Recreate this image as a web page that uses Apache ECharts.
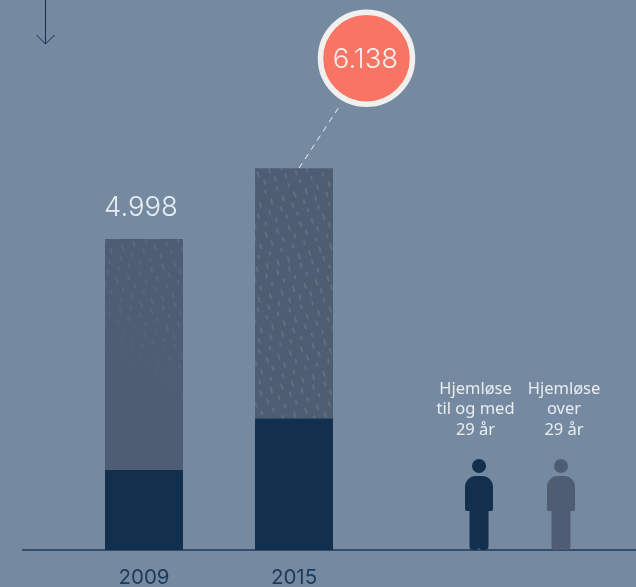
<!DOCTYPE html>
<html>
<head>
<meta charset="utf-8">
<style>
html, body { margin: 0; padding: 0; background: #758aa1; }
#chart { width: 636px; height: 587px; }
</style>
<script src="https://cdn.jsdelivr.net/npm/echarts@6/dist/echarts.min.js"></script>
</head>
<body>
<div id="chart"></div>
<script>
let years = ['2009', '2015', '', ''];
let upTo29 = [1290, 2120];
let over29 = [3708, 4018];
let totals = ['4.998', '6.138'];
let legendYoung = 'Hjemløse\ntil og med\n29 år';
let legendOld = 'Hjemløse\nover\n29 år';

let navy = '#132f4e';
let slate = '#4e5d72';
let bg = '#758aa1';
let textLight = '#e9edf0';

// streaks on the upper part of the bars
let rain = {
    symbol: 'rect',
    symbolSize: 1,
    symbolKeepAspect: false,
    color: 'rgba(255,255,255,0.10)',
    dashArrayX: [[2, 9], [0, 4, 1.5, 6], [0, 7, 2, 3], [0, 2, 1.5, 8]],
    dashArrayY: [6, 4, 5, 5, 4, 6],
    rotation: -0.3
};

let chart = echarts.init(document.getElementById('chart'));

let option = {
    backgroundColor: bg,
    animation: false,
    grid: { left: 69, top: 0, width: 600, height: 550, outerBoundsMode: 'none' },
    xAxis: {
        type: 'category',
        data: years,
        axisLine: { show: false },
        axisTick: { show: false },
        axisLabel: { color: '#1d3a5b', fontSize: 20.5, fontFamily: 'Inter', margin: 17 }
    },
    yAxis: {
        type: 'value',
        min: 0,
        max: 550 / 0.0622,
        show: false,
        splitLine: { show: false }
    },
    series: [
        {
            name: 'Hjemløse til og med 29 år',
            type: 'bar',
            stack: 'total',
            barWidth: 78,
            itemStyle: { color: navy },
            data: upTo29
        },
        {
            name: 'Hjemløse over 29 år',
            type: 'bar',
            stack: 'total',
            barWidth: 78,
            itemStyle: { color: slate, decal: rain },
            data: [
                {
                    value: over29[0],
                    label: {
                        show: true,
                        position: 'top',
                        distance: 17,
                        offset: [-3, 0],
                        formatter: totals[0],
                        color: textLight,
                        fontSize: 27.5,
                        fontFamily: 'Inter',
                        fontWeight: 300
                    }
                },
                over29[1]
            ]
        }
    ]
};
chart.setOption(option);

// callout, baseline and the fade on the 2009 bar hang off the chart's own scale
let top2009 = chart.convertToPixel({ gridIndex: 0 }, [0, upTo29[0] + over29[0]]);
let mid2009 = chart.convertToPixel({ gridIndex: 0 }, [0, upTo29[0]]);
let top2015 = chart.convertToPixel({ gridIndex: 0 }, [1, upTo29[1] + over29[1]]);
let base = chart.convertToPixel({ gridIndex: 0 }, [0, 0]);
let cx = top2015[0] + 72.500;
let cy = top2015[1] - 110;

function person(x, color) {
    return {
        type: 'group',
        x: x,
        y: 459,
        children: [
            { type: 'circle', shape: { cx: 14, cy: 7, r: 7 }, style: { fill: color } },
            { type: 'rect', shape: { x: 0, y: 17, width: 28, height: 35, r: [11, 11, 2, 2] }, style: { fill: color } },
            { type: 'rect', shape: { x: 4.500, y: 50, width: 9.800, height: 41, r: [0, 0, 4, 4] }, style: { fill: color } },
            { type: 'rect', shape: { x: 13.700, y: 50, width: 9.800, height: 41, r: [0, 0, 4, 4] }, style: { fill: color } }
        ]
    };
}

chart.setOption({
    graphic: [
        {
            type: 'rect',
            z: 10,
            shape: { x: top2009[0] - 39, y: top2009[1], width: 78, height: mid2009[1] - top2009[1] },
            style: {
                fill: new echarts.graphic.LinearGradient(0, 0.85, 1, 0.35, [
                    { offset: 0, color: 'rgba(78,93,114,1)' },
                    { offset: 0.4, color: 'rgba(78,93,114,1)' },
                    { offset: 1, color: 'rgba(78,93,114,0.4)' }
                ])
            }
        },
        { type: 'line', shape: { x1: 22, y1: base[1], x2: 636, y2: base[1] }, style: { stroke: '#1d3a5b', lineWidth: 1.500 } },
        // arrow, top left
        { type: 'polyline', shape: { points: [[45.500, 0], [45.500, 44]] }, style: { stroke: navy, lineWidth: 1, fill: null } },
        { type: 'polyline', shape: { points: [[36.500, 35], [45.500, 44], [54.500, 35]] }, style: { stroke: navy, lineWidth: 1, fill: null } },
        // leader line
        { type: 'line', shape: { x1: top2015[0] + 5, y1: top2015[1], x2: cx - 27, y2: cy + 48 }, style: { stroke: '#eef0f0', lineWidth: 1, lineDash: [6, 5] } },
        // bubble
        { type: 'circle', shape: { cx: cx, cy: cy, r: 46 }, style: { fill: '#f87565', stroke: '#f0f0ee', lineWidth: 5.500 } },
        { type: 'text', x: cx - 1, y: cy + 2, style: { text: totals[1], fill: '#f6eee8', fontSize: 27.500, fontFamily: 'Inter', fontWeight: 300, align: 'center', verticalAlign: 'middle' } },
        // legend
        { type: 'text', x: 475.500, y: 379, style: { text: legendYoung, fill: textLight, fontSize: 16.500, lineHeight: 20.500, fontFamily: 'Noto Sans', align: 'center', verticalAlign: 'top' } },
        { type: 'text', x: 564, y: 379, style: { text: legendOld, fill: textLight, fontSize: 16.500, lineHeight: 20.500, fontFamily: 'Noto Sans', align: 'center', verticalAlign: 'top' } },
        person(465, navy),
        person(547, slate)
    ]
});
</script>
</body>
</html>
